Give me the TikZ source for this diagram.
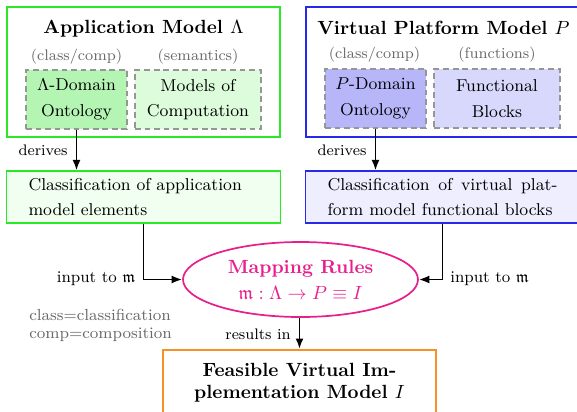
\documentclass[tikz,border=0pt]{standalone}
\usepackage{amssymb}
\usetikzlibrary{arrows.meta,shapes.geometric}

\definecolor{appgreen}{RGB}{40,232,40}
\definecolor{ontogreen}{RGB}{180,245,180}
\definecolor{mocgreen}{RGB}{220,252,220}
\definecolor{clsgreen}{RGB}{240,255,240}
\definecolor{vpblue}{RGB}{40,40,235}
\definecolor{ontoblue}{RGB}{182,182,248}
\definecolor{fbblue}{RGB}{216,216,252}
\definecolor{clsblue}{RGB}{238,238,255}
\definecolor{maprose}{RGB}{232,30,140}
\definecolor{implorange}{RGB}{245,145,40}
\definecolor{notegray}{RGB}{105,105,105}
\definecolor{dashgray}{RGB}{150,150,150}

\newcommand{\pxl}{0.5236pt}

\begin{document}
\begin{tikzpicture}[x=0.5236pt, y=-0.5236pt,
  modelbox/.style={draw, line width=1pt, minimum width=273*\pxl,
    minimum height=130*\pxl, inner sep=0},
  title/.style={font=\bfseries},
  note/.style={font=\footnotesize, text=notegray},
  partbox/.style={draw=dashgray, line width=0.6pt,
    dash pattern=on 3pt off 2pt, minimum height=59*\pxl, inner sep=0,
    align=center, font={\fontsize{9}{13.5}\selectfont}},
  narrowpart/.style={partbox, minimum width=101*\pxl},
  widepart/.style={partbox, minimum width=126*\pxl},
  classbox/.style={draw, line width=0.6pt, text width=230*\pxl,
    inner xsep=22*\pxl, inner ysep=0, minimum height=52*\pxl,
    font={\fontsize{9}{13.1}\selectfont}},
  edgelabel/.style={font=\footnotesize},
  link/.style={line width=1pt, -{Latex[length=5.5pt,width=4.2pt]}}
]
\useasboundingbox (0,0) rectangle (577,411);
\clip (0,0) rectangle (577,411);

% application model
\node[modelbox, draw=appgreen] (app) at (143.5,72) {};
\node[title, anchor=base] (apptitle) at (143.5,33) {Application Model $\Lambda$};
\node[note, anchor=base] (appcc) at (76.5,60) {(class/comp)};
\node[note, anchor=base] (appsem) at (198,60) {(semantics)};
\node[narrowpart, fill=ontogreen] (lonto) at (76.5,99.5) {$\Lambda$-Domain\\Ontology};
\node[widepart, fill=mocgreen] (moc) at (198,99.5) {Models of\\Computation};

% virtual platform model
\node[modelbox, draw=vpblue] (vp) at (442.5,72) {};
\node[title, anchor=base] (vptitle) at (443.5,34) {Virtual Platform Model $P$};
\node[note, anchor=base] (vpcc) at (374.5,58) {(class/comp)};
\node[note, anchor=base] (vpfun) at (497,58) {(functions)};
\node[narrowpart, fill=ontoblue] (ponto) at (375.5,98.5) {$P$-Domain\\Ontology};
\node[widepart, fill=fbblue] (fb) at (497,98.5) {Functional\\Blocks};

% classifications
\node[classbox, draw=appgreen, fill=clsgreen, align=left] (lcls) at (143.5,197)
  {Classification of application model elements};
\node[classbox, draw=vpblue, fill=clsblue, align=justify] (rcls) at (442.5,197)
  {Classification of virtual plat\-form model functional blocks};

% mapping rules
\node[ellipse, draw=maprose, line width=0.9pt, text=maprose,
  minimum width=235*\pxl, minimum height=75*\pxl, inner sep=0,
  align=center, font={\fontsize{10}{13.6}\selectfont}] (map) at (300.5,279.5)
  {\textbf{Mapping Rules}\\$\mathfrak{m} : \Lambda \rightarrow P \equiv I$};

% implementation model
\node[draw=implorange, line width=1pt, minimum width=273*\pxl,
  minimum height=90*\pxl, inner sep=0, anchor=north] (impl) at (299.5,349) {};
\node[title, align=center, anchor=north] (impltext) at (299.5,356)
  {Feasible Virtual Im-\\plementation Model $I$};

% connectors
\draw[link] (lonto.south) -- (lonto.south |- lcls.north);
\draw[link] (ponto.south) -- (ponto.south |- rcls.north);
\draw[link] (lcls.south) |- (map.west);
\draw[link] (rcls.south) |- (map.east);
\draw[link] (map.south -| impl.north) -- (impl.north);

% labels
\node[edgelabel] (lder) at (43,150) {derives};
\node[edgelabel] (rder) at (342,150) {derives};
\node[edgelabel, font={\fontsize{8.6}{10}\selectfont}] (lin) at (96,279) {input to $\mathfrak{m}$};
\node[edgelabel, font={\fontsize{8.6}{10}\selectfont}] (rin) at (489.5,279) {input to $\mathfrak{m}$};
\node[edgelabel] (res) at (258,334) {results in};
\node[note, align=left, anchor=west, inner xsep=0, font={\fontsize{8.4}{9.2}\selectfont}] (legend) at (29,325.5)
  {class=classification\\comp=composition};
\end{tikzpicture}
\end{document}
